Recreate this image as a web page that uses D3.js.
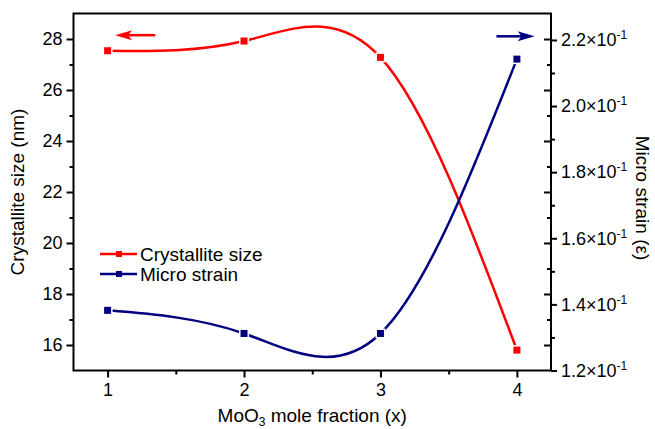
<!DOCTYPE html>
<html lang="en">
<head>
<meta charset="UTF-8">
<title>Crystallite size and micro strain vs MoO3 fraction</title>
<style>
    body { margin: 0; background: #fff; }
    text { font-family: "Liberation Sans", Arial, Helvetica, sans-serif; fill: #000; }
</style>
</head>
<body>
<script src="https://cdn.jsdelivr.net/npm/d3@7"></script>
<script>
    // data
    var fractions = [1, 2, 3, 4];
    var crystalliteSize = [27.54, 27.92, 27.28, 15.8];     // nm, left axis
    var microStrain = [0.1382, 0.1312, 0.1312, 0.2142];    // right axis
    var xTicks = [1, 2, 3, 4];
    var leftTicks = [16, 18, 20, 22, 24, 26, 28];
    var rightTicks = [0.12, 0.14, 0.16, 0.18, 0.20, 0.22];
    var seriesNames = ["Crystallite size", "Micro strain"];

    var width = 655, height = 429;
    // plot frame (note: "top" is reserved on window, so use px*)
    var pxLeft = 73.5, pxRight = 551, pxTop = 13.5, pxBottom = 370.5;
    var red = "#ff0000", blue = "#000080";

    var svg = d3.select("body").append("svg")
        .attr("width", width)
        .attr("height", height);

    var x = d3.scaleLinear().domain([0.75, 4.25]).range([pxLeft, pxRight]);
    var yL = d3.scaleLinear().domain([15, 29]).range([pxBottom, pxTop]);
    var yR = d3.scaleLinear().domain([0.12, 0.228]).range([pxBottom, pxTop]);

    function styleAxis(g) {
        g.select(".domain").remove();
        g.selectAll(".tick line").attr("stroke", "#000").attr("stroke-width", 2);
        g.selectAll(".tick text").style("font-size", "18px").attr("fill", "#000");
    }

    // bottom axis, outward ticks
    svg.append("g").attr("transform", "translate(0," + pxBottom + ")")
        .call(d3.axisBottom(x).tickValues([1.5, 2.5, 3.5]).tickSize(4).tickFormat(""))
        .call(styleAxis);
    svg.append("g").attr("transform", "translate(0," + pxBottom + ")")
        .call(d3.axisBottom(x).tickValues(xTicks).tickSize(7).tickPadding(6).tickFormat(d3.format("d")))
        .call(styleAxis);

    // left axis, outward ticks
    svg.append("g").attr("transform", "translate(" + pxLeft + ",0)")
        .call(d3.axisLeft(yL).tickValues([17, 19, 21, 23, 25, 27]).tickSize(4).tickFormat(""))
        .call(styleAxis);
    svg.append("g").attr("transform", "translate(" + pxLeft + ",0)")
        .call(d3.axisLeft(yL).tickValues(leftTicks).tickSize(7).tickPadding(4).tickFormat(d3.format("d")))
        .call(styleAxis);

    // right axis: inward ticks mirror the left scale
    svg.append("g").attr("transform", "translate(" + pxRight + ",0)")
        .call(d3.axisLeft(yL).tickValues([17, 19, 21, 23, 25, 27]).tickSize(4).tickFormat(""))
        .call(styleAxis);
    svg.append("g").attr("transform", "translate(" + pxRight + ",0)")
        .call(d3.axisLeft(yL).tickValues(leftTicks).tickSize(7).tickFormat(""))
        .call(styleAxis);

    // right axis: outward ticks for strain
    svg.append("g").attr("transform", "translate(" + pxRight + ",0)")
        .call(d3.axisRight(yR).tickValues([0.13, 0.15, 0.17, 0.19, 0.21]).tickSize(4).tickFormat(""))
        .call(styleAxis);
    var rAxis = svg.append("g").attr("transform", "translate(" + pxRight + ",0)")
        .call(d3.axisRight(yR).tickValues(rightTicks).tickSize(6).tickPadding(4).tickFormat(""))
        .call(styleAxis);
    rAxis.selectAll(".tick text").each(function(d) {
        var t = d3.select(this);
        t.text((d * 10).toFixed(1) + "\u00d710");
        t.append("tspan").attr("dy", -7).style("font-size", "12px").text("-1");
    });

    // frame
    svg.append("rect")
        .attr("x", pxLeft).attr("y", pxTop)
        .attr("width", pxRight - pxLeft).attr("height", pxBottom - pxTop)
        .attr("fill", "none").attr("stroke", "#000").attr("stroke-width", 2);

    // curves
    var lineL = d3.line().x(function(d, i){ return x(fractions[i]); })
        .y(function(d){ return yL(d); }).curve(d3.curveNatural);
    var lineR = d3.line().x(function(d, i){ return x(fractions[i]); })
        .y(function(d){ return yR(d); }).curve(d3.curveNatural);

    svg.append("path").datum(crystalliteSize).attr("d", lineL)
        .attr("fill", "none").attr("stroke", red).attr("stroke-width", 2.5);
    svg.append("path").datum(microStrain).attr("d", lineR)
        .attr("fill", "none").attr("stroke", blue).attr("stroke-width", 2.5);

    function markers(data, yScale, color) {
        svg.append("g").selectAll("rect").data(data).enter().append("rect")
            .attr("x", function(d, i){ return x(fractions[i]) - 3.5; })
            .attr("y", function(d){ return yScale(d) - 3.5; })
            .attr("width", 7).attr("height", 7)
            .attr("fill", color).attr("stroke", "#fff").attr("stroke-width", 3)
            .style("paint-order", "stroke");
    }
    markers(crystalliteSize, yL, red);
    markers(microStrain, yR, blue);

    // arrows showing which axis each series belongs to
    function arrow(x0, x1, yy, color) {
        var dir = x1 > x0 ? 1 : -1;
        svg.append("line").attr("x1", x0).attr("x2", x1 - dir * 12).attr("y1", yy).attr("y2", yy)
            .attr("stroke", color).attr("stroke-width", 2.5);
        svg.append("path")
            .attr("d", "M" + x1 + "," + yy + "L" + (x1 - dir * 17) + "," + (yy - 5) +
                "L" + (x1 - dir * 13) + "," + yy + "L" + (x1 - dir * 17) + "," + (yy + 5) + "Z")
            .attr("fill", color);
    }
    arrow(x(1.35), x(1.055), yL(28.15), red);
    arrow(x(3.85), x(4.13), yR(0.2211), blue);

    // legend
    var legend = svg.append("g").attr("transform", "translate(100,254)");
    var colors = [red, blue];
    seriesNames.forEach(function(name, i) {
        var row = legend.append("g").attr("transform", "translate(0," + (i * 20) + ")");
        row.append("line").attr("x1", 0).attr("x2", 37).attr("stroke", colors[i]).attr("stroke-width", 2.5);
        row.append("rect").attr("x", 16).attr("y", -3).attr("width", 6).attr("height", 6).attr("fill", colors[i]);
        row.append("text").attr("x", 40).attr("y", 6.5).style("font-size", "19px").text(name);
    });

    // axis titles
    svg.append("text")
        .attr("transform", "translate(24," + ((pxTop + pxBottom) / 2) + ") rotate(-90)")
        .attr("text-anchor", "middle").style("font-size", "19px")
        .text("Crystallite size (nm)");

    svg.append("text")
        .attr("transform", "translate(636," + ((pxTop + pxBottom) / 2 + 6) + ") rotate(90)")
        .attr("text-anchor", "middle").style("font-size", "19px")
        .text("Micro strain (\u03b5)");

    var xt = svg.append("text")
        .attr("x", (pxLeft + pxRight) / 2).attr("y", 422)
        .attr("text-anchor", "middle").style("font-size", "19px");
    xt.append("tspan").text("MoO");
    xt.append("tspan").attr("dy", 4).style("font-size", "12px").text("3");
    xt.append("tspan").attr("dy", -4).text(" mole fraction (x)");
</script>
</body>
</html>
